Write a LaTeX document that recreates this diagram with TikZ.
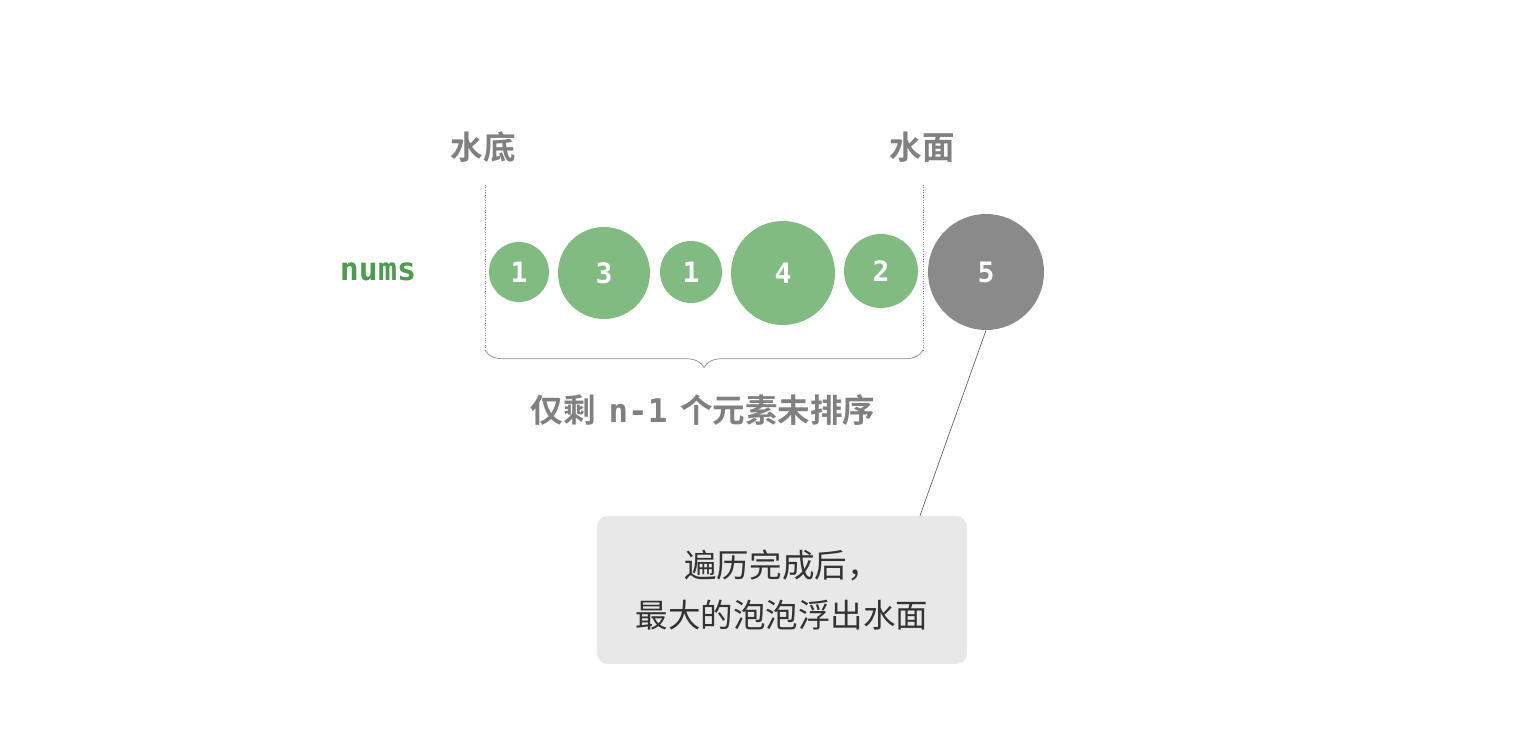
\documentclass[tikz,border=0pt]{standalone}
\usepackage{fontspec}
\newfontfamily\cjk{Noto Sans CJK SC}
\newfontfamily\cjkb{Noto Sans CJK SC Bold}
\newfontfamily\monob{DejaVu Sans Mono Bold}
\usetikzlibrary{decorations.pathreplacing}
\definecolor{bubble}{HTML}{82BB82}
\definecolor{numsgreen}{HTML}{4E9A4E}
\definecolor{topgray}{HTML}{8A8A8A}
\definecolor{labelgray}{HTML}{808080}
\definecolor{boxgray}{HTML}{E8E8E8}
\tikzstyle{bubble} = [circle, fill=bubble, text=white, inner sep=0pt, font=\monob\fontsize{16}{18}\selectfont]
\tikzstyle{marklabel} = [text=labelgray, font=\cjkb\fontsize{18.5}{20}\selectfont]
\tikzstyle{note} = [rectangle, rounded corners=6pt, fill=boxgray, align=center, text=black!80,
    font=\cjk\fontsize{18.5}{28}\selectfont, minimum width=7.4cm, minimum height=2.96cm]
\begin{document}
\begin{tikzpicture}[x=0.02cm, y=-0.02cm]
    \useasboundingbox (0,0) rectangle (1518,744);
    % Place nodes
    \node [font=\monob\fontsize{18}{20}\selectfont, text=numsgreen] (nums) at (378,272) {nums};
    \node [bubble, minimum size=1.2cm] (a) at (519,272) {1};
    \node [bubble, minimum size=1.84cm] (b) at (604,273) {3};
    \node [bubble, minimum size=1.24cm] (c) at (691,272) {1};
    \node [bubble, minimum size=2.08cm] (d) at (783,273) {4};
    \node [bubble, minimum size=1.48cm] (e) at (881,271) {2};
    \node [bubble, fill=topgray, minimum size=2.32cm] (top) at (986,272) {5};
    \node [marklabel] (bottom) at (483,147) {水底};
    \node [marklabel] (surface) at (922,147) {水面};
    \node [marklabel] (rest) at (703,410) {仅剩\hspace{0.4em}{\monob n-1}\hspace{0.4em}个元素未排序};
    \node [note] (result) at (782,590) {遍历完成后，\\最大的泡泡浮出水面};
    \coordinate (lo) at (485,350);
    \coordinate (hi) at (923,350);
    % Draw edges
    \draw [black!45, densely dotted] (485,185) -- (lo);
    \draw [black!45, densely dotted] (923,185) -- (hi);
    \draw [black!45, decorate, decoration={brace, amplitude=0.35cm}] (hi) -- (lo);
    \draw [black!60] (top.south) -- (result.north -| 920,0);
\end{tikzpicture}
\end{document}
